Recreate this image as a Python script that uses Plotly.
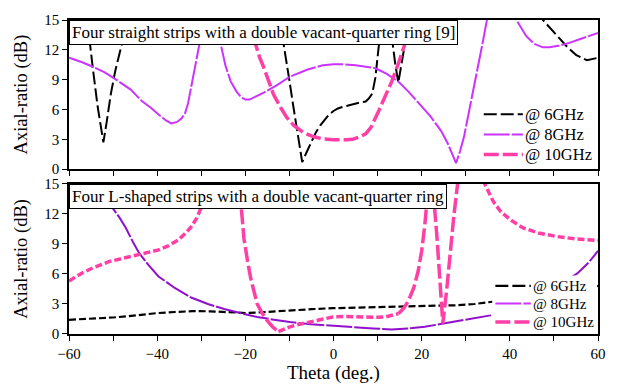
import plotly.graph_objects as go

# ---------------- data (top panel: four straight strips) ----------------
top6_x = [-60, -58, -57, -56, -55.3, -54.5, -53.5, -52.7, -52.2, -51.5, -50.5, -49.5, -48.5, -47.9, -47, -46, -44, -40,
          -20, -14, -13, -12, -11, -10, -9, -8, -7.1, -6, -5, -4, -3, -2, -1, 0, 1, 2, 4, 6, 7.3, 8, 8.8, 9.5, 10.2,
          10.8, 11.5, 12.3, 13, 13.5, 14, 14.7, 15.5, 16.2, 17, 18, 20, 30, 40, 44, 46, 47.5, 50, 53, 55, 57.5, 60]
top6_y = [25, 21, 18.5, 15.5, 12.6, 9.8, 6.3, 3.8, 2.7, 4.6, 7.6, 9.9, 11.6, 12.6, 14.4, 16.5, 21, 25,
          25, 20, 17.3, 14.6, 11.7, 8.9, 6, 3.2, 0.7, 1.8, 2.8, 3.7, 4.4, 5, 5.5, 5.85, 6.1, 6.25, 6.5, 6.7, 6.8, 7.1, 7.6, 9.2, 12.1,
          14.5, 16.5, 16.5, 14, 12.4, 10.6, 8.7, 10.6, 12.6, 14.6, 17, 22, 25, 25, 19, 16.3, 15, 13.8, 12.3, 11.5, 10.95, 11.2]

top8_x = [-60, -57, -54.6, -52, -49.3, -46, -43.5, -41.5, -39.7, -38, -36.8, -35.5, -34.5, -33.7, -33, -32.3, -31.7, -31.2,
          -30.4, -29.5, -28.5, -27.5, -26.5, -25.6, -24.5, -23.3, -22, -21, -20, -19, -17.5, -15.8, -13, -9.9, -6, -2.4, 0,
          2, 5, 9.5, 12, 14.7, 17, 19.9, 22, 24.4, 26, 27.8, 28.7, 29.6, 30.5, 31.5, 32.6, 33.7, 34.8, 36, 38, 40, 41.5,
          43.7, 45.5, 47.5, 49, 51, 53.5, 57, 60]
top8_y = [11.2, 10.75, 10.3, 9.75, 9.0, 8.0, 6.85, 6.2, 5.5, 4.9, 4.6, 4.75, 5.1, 5.6, 6.6, 8.2, 9.7, 11.1,
          12.6, 14.8, 17, 17, 15, 12.6, 10.4, 8.8, 7.8, 7.25, 7.0, 7.0, 7.3, 7.7, 8.4, 9.3, 10.0, 10.45, 10.55,
          10.55, 10.45, 10.15, 9.6, 8.8, 7.8, 6.4, 5.3, 3.85, 2.5, 0.6, 1.8, 3.25, 5.2, 7.5, 9.8, 12.4, 15, 17.5, 19, 17, 15,
          13.4, 12.6, 12.25, 12.25, 12.4, 12.7, 13.2, 13.7]

top10_x = [-60, -30, -22, -19.5, -18.5, -17.7, -16.8, -15.8, -14.7, -13.6, -12, -10.6, -9, -6.9, -4.5, -2.4, 0, 1, 3,
           4.3, 6, 7.3, 8.5, 10.2, 11.7, 13.2, 14.7, 16.2, 17.4, 18.5, 20, 30, 60]
top10_y = [25, 25, 22, 17, 14.6, 12.6, 11.3, 10.2, 8.8, 7.5, 6.2, 5.2, 4.4, 3.7, 3.25, 3.05, 2.95, 2.93, 2.95,
           3.0, 3.25, 3.55, 4.2, 5.8, 7.2, 8.8, 10.6, 12.6, 14.5, 16.5, 19, 25, 25]

# ---------------- data (bottom panel: four L-shaped strips) ----------------
bot6_x = [-60, -55, -50, -47, -43, -39.7, -36, -32, -28, -24.8, -20, -17.3, -13, -9.9, -5, -0.2, 5, 9.5, 15, 20.7, 25,
          28, 32, 35.6, 40, 45, 50, 55, 60]
bot6_y = [1.42, 1.5, 1.65, 1.76, 1.95, 2.1, 2.2, 2.28, 2.27, 2.2, 2.1, 2.15, 2.28, 2.35, 2.48, 2.58, 2.65, 2.7, 2.78, 2.85, 2.85,
          2.87, 3.0, 3.2, 3.45, 3.75, 4.05, 4.4, 4.8]

bot8_x = [-60, -56, -53, -51.5, -50.2, -48.5, -47.1, -45.5, -44.1, -42, -39.7, -36, -32.3, -28.5, -24.8, -20.3, -17.3,
          -13.5, -9.9, -5, 0.6, 5.7, 9, 13.2, 17, 20.7, 25.1, 30, 35.6, 40, 45, 50, 55.3, 58, 60]
bot8_y = [25, 19, 15.5, 14, 12.65, 11.6, 10.6, 9.2, 8.1, 6.9, 5.75, 4.6, 3.65, 3.0, 2.5, 2.0, 1.7,
          1.43, 1.2, 0.97, 0.78, 0.68, 0.55, 0.46, 0.55, 0.72, 1.05, 1.4, 1.86, 2.4, 3.3, 4.5, 6.05, 7.2, 8.3]

# 10 GHz curve, split where the drawing style changes
bot10_a_x = [-60, -57, -54.6, -50.8, -47, -44.1, -41.5, -39.7, -37.5, -35.2, -33.5, -32.3, -31, -30, -29, -28, -27]
bot10_a_y = [5.3, 6.1, 6.6, 7.25, 7.65, 7.97, 8.2, 8.4, 8.8, 9.4, 10.1, 10.7, 11.6, 12.65, 14, 15.8, 18]
bot10_b_x = [-23, -21.4, -20.8, -20.3, -19.5, -18.8, -18, -17.3, -16.2, -15.1, -13.8, -12.5]
bot10_b_y = [20, 15, 12, 9.5, 7.3, 5.6, 4.2, 3.0, 2.1, 1.37, 0.7, 0.23]
bot10_c_x = [-12.5, -11.2, -9.9, -7.5, -5.4, -2.5, -0.2, 3, 5.8, 9, 11.8, 13.5, 14.7]
bot10_c_y = [0.23, 0.5, 0.72, 1.0, 1.2, 1.5, 1.7, 1.75, 1.7, 1.68, 1.7, 1.85, 2.03]
bot10_d_x = [14.7, 16, 17, 18.2, 19.2, 20, 20.7, 21.5, 22.1, 22.6, 22.9, 23.5, 24.2, 24.8, 25.7, 26.5, 27.3, 28.1, 28.8]
bot10_d_y = [2.03, 2.6, 3.33, 4.6, 6.27, 8.3, 10.85, 14.8, 17.5, 15.5, 12.8, 9.5, 5.2, 1.05, 4.5, 8.3, 11.8, 14.8, 18]
bot10_e_x = [29.5, 32, 34.3, 36.3, 38, 40.5, 43, 46.5, 50.5, 55, 60]
bot10_e_y = [20, 17, 15, 13.2, 12.2, 11.3, 10.6, 10.1, 9.75, 9.5, 9.35]

legend_names = ["@ 6GHz", "@ 8GHz", "@ 10GHz"]
top_title = "Four straight strips with a double vacant-quarter ring [9]"
bot_title = "Four L-shaped strips with a double vacant-quarter ring"
x_title = "Theta (deg.)"
y_title = "Axial-ratio (dB)"
x_ticks = [-60, -40, -20, 0, 20, 40, 60]
y_ticks = [0, 3, 6, 9, 12, 15]

BLACK = "#000000"
VIOLET = "#CC33FF"
PURPLE = "#9010CC"
PINK = "#FF3FA6"
FONT = "Liberation Serif"

# line styles: (colour, width, dash)
top_styles = [(BLACK, 2, "13px,4px"), (VIOLET, 2, "26px,2px"), (PINK, 3.5, "15px,4px")]
bot_legend_styles = [(BLACK, 2.2, "13px,4px"), (VIOLET, 2, "26px,2px"), (PINK, 3.5, "15px,4px")]
SHORT_PINK = "7px,3px"

fig = go.Figure()

# top panel
for (xs, ys), (c, w, d), nm in zip([(top6_x, top6_y), (top8_x, top8_y), (top10_x, top10_y)], top_styles, legend_names):
    fig.add_trace(go.Scatter(x=xs, y=ys, mode="lines", name=nm,
                             line=dict(color=c, width=w, dash=d), xaxis="x", yaxis="y"))

# bottom panel
fig.add_trace(go.Scatter(x=bot6_x, y=bot6_y, mode="lines", name=legend_names[0],
                         line=dict(color=BLACK, width=2.2, dash="7px,3px"), xaxis="x2", yaxis="y2"))
fig.add_trace(go.Scatter(x=bot8_x, y=bot8_y, mode="lines", name=legend_names[1],
                         line=dict(color=PURPLE, width=2, dash="26px,2px"), xaxis="x2", yaxis="y2"))
for bx, by, dsh in [(bot10_a_x, bot10_a_y, SHORT_PINK),
                    (bot10_b_x, bot10_b_y, "15px,4px"),
                    (bot10_c_x, bot10_c_y, SHORT_PINK),
                    (bot10_d_x, bot10_d_y, "15px,4px"),
                    (bot10_e_x, bot10_e_y, SHORT_PINK)]:
    fig.add_trace(go.Scatter(x=bx, y=by, mode="lines", name=legend_names[2],
                             line=dict(color=PINK, width=3.5, dash=dsh), xaxis="x2", yaxis="y2"))

# ---- hand-made legends (tighter row spacing than plotly's built-in legend) ----
shapes = []
annotations = []


def add_legend(xref, yref, x0, x1, xt, rows, styles, fsize, bg=None):
    if bg is not None:
        shapes.append(dict(type="rect", xref=xref, yref=yref, x0=bg[0], x1=bg[1], y0=bg[2], y1=bg[3],
                           fillcolor="white", line=dict(width=0), layer="above"))
    for yv, (c, w, d), nm in zip(rows, styles, legend_names):
        shapes.append(dict(type="line", xref=xref, yref=yref, x0=x0, x1=x1, y0=yv, y1=yv,
                           line=dict(color=c, width=w, dash=d), layer="above"))
        annotations.append(dict(text=nm, xref=xref, yref=yref, x=xt, y=yv, xanchor="left", yanchor="middle",
                                showarrow=False, font=dict(family=FONT, size=fsize, color="black")))


add_legend("x domain", "y domain", 0.784, 0.858, 0.859, [0.368, 0.232, 0.099], top_styles, 16.5)
add_legend("x2 domain", "y2 domain", 0.806, 0.873, 0.874, [0.320, 0.203, 0.080], bot_legend_styles, 15,
           bg=(0.800, 0.997, 0.005, 0.39))

for txt, xr, yr in [(top_title, "x domain", "y domain"), (bot_title, "x2 domain", "y2 domain")]:
    annotations.append(dict(text=txt, xref=xr, yref=yr, x=0, y=1, xanchor="left", yanchor="top",
                            showarrow=False, bgcolor="white", bordercolor="black", borderwidth=1, borderpad=2,
                            font=dict(family=FONT, size=17, color="black")))

annotations.append(dict(text=x_title, xref="paper", yref="paper", x=0.5, y=0, xanchor="center", yanchor="top",
                        yshift=-26, showarrow=False, font=dict(family=FONT, size=19, color="black")))

axis_common = dict(showline=True, linecolor="black", linewidth=1.5, mirror=True, showgrid=False,
                   zeroline=False, ticks="outside", ticklen=5, tickwidth=1.2, tickcolor="black",
                   tickfont=dict(family=FONT, size=15, color="black"))
minor_x = dict(dtick=10, tick0=-60, ticks="outside", ticklen=5, tickcolor="black", tickwidth=1.2)

fig.update_layout(
    width=618, height=384,
    margin=dict(l=69, r=12, t=14, b=50),
    paper_bgcolor="white", plot_bgcolor="white",
    font=dict(family=FONT, color="black"),
    showlegend=False,
    xaxis=dict(**axis_common, domain=[0, 1], range=[-60, 60], anchor="y", tickvals=x_ticks,
               showticklabels=False, minor=minor_x),
    yaxis=dict(**axis_common, domain=[0.525, 1], range=[0, 15], anchor="x", tickvals=y_ticks,
               title=dict(text=y_title, font=dict(family=FONT, size=18.5), standoff=12)),
    xaxis2=dict(**axis_common, domain=[0, 1], range=[-60, 60], anchor="y2", tickvals=x_ticks,
                minor=minor_x),
    yaxis2=dict(**axis_common, domain=[0, 0.478], range=[0, 15], anchor="x2", tickvals=y_ticks,
                title=dict(text=y_title, font=dict(family=FONT, size=18.5), standoff=12)),
    shapes=shapes,
    annotations=annotations,
)

fig.write_html("out.html", config={"displayModeBar": False},
               post_script="document.body.style.margin='0';")
